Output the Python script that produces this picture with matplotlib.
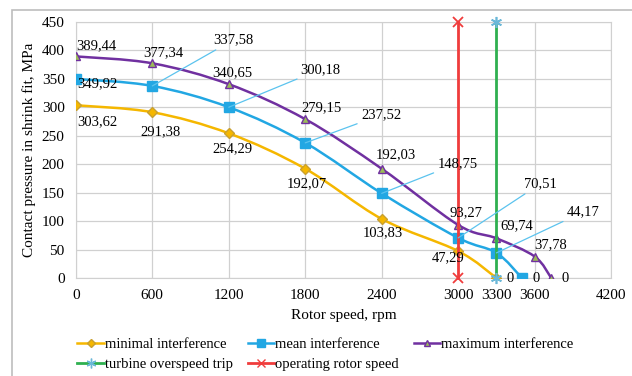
import matplotlib.pyplot as plt
from matplotlib.path import Path
from matplotlib.patches import PathPatch, Rectangle
from matplotlib.lines import Line2D

# rotor speed, rpm / contact pressure, MPa
min_x = [0, 600, 1200, 1800, 2400, 3000, 3300]
min_y = [303.62, 291.38, 254.29, 192.07, 103.83, 47.29, 0]
mean_x = [0, 600, 1200, 1800, 2400, 3000, 3300, 3500]
mean_y = [349.92, 337.58, 300.18, 237.52, 148.75, 70.51, 44.17, 0]
max_x = [0, 600, 1200, 1800, 2400, 3000, 3300, 3600, 3730]
max_y = [389.44, 377.34, 340.65, 279.15, 192.03, 93.27, 69.74, 37.78, 0]

operating_speed = 3000
overspeed_trip = 3300
y_top = 450

x_ticks = [0, 600, 1200, 1800, 2400, 3000, 3300, 3600, 4200]
y_ticks = [0, 50, 100, 150, 200, 250, 300, 350, 400, 450]

# label offsets in pixels (dx, dy) for each point
min_offs = [(21, -16), (8, -19), (4, -15), (2, -15), (1, -14), (-10, -7), (14, 0)]
mean_offs = [(22, -5), (81, 46), (92, 38), (76, 28), (76, 30), (82, 54), (87, 41), (14, 0)]
max_offs = [(20, 11), (11, 11), (4, 11), (16, 11), (14, 14), (8, 12), (20, 13), (16, 12), (14, 0)]
mean_leader = [False, True, True, True, True, True, True, False]

plt.rcParams['font.family'] = ['Liberation Serif', 'DejaVu Serif']
plt.rcParams['font.size'] = 10.5

fig = plt.figure(figsize=(6.32, 3.76), dpi=100)
ax = fig.add_axes([0.120, 0.2606, 0.847, 0.681])

# chart area frame (partly cut off like the original)
fig.patches.append(Rectangle((12 / 632, -0.1), 1.2, 1 - 10 / 376 + 0.1,
                             transform=fig.transFigure, fill=False,
                             edgecolor='#bdbdbd', lw=1.2))


def smooth_path(xs, ys):
    # Excel-like smoothed line: cubic Bezier through each data point
    pts = list(zip(xs, ys))
    verts = [pts[0]]
    codes = [Path.MOVETO]
    n = len(pts)
    for i in range(n - 1):
        p0 = pts[i - 1] if i > 0 else pts[i]
        p1 = pts[i]
        p2 = pts[i + 1]
        p3 = pts[i + 2] if i + 2 < n else pts[i + 1]
        c1 = (p1[0] + (p2[0] - p0[0]) / 6, p1[1] + (p2[1] - p0[1]) / 6)
        c2 = (p2[0] - (p3[0] - p1[0]) / 6, p2[1] - (p3[1] - p1[1]) / 6)
        verts += [c1, c2, p2]
        codes += [Path.CURVE4] * 3
    return Path(verts, codes)


series = [
    (min_x, min_y, '#F5B700', 'D', '#F5B700', '#C8A030', 5, min_offs, 'minimal interference'),
    (mean_x, mean_y, '#22A7E3', 's', '#22A7E3', '#22A7E3', 7, mean_offs, 'mean interference'),
    (max_x, max_y, '#7030A0', '^', '#9BBB59', '#7030A0', 6, max_offs, 'maximum interference'),
]

handles = []
for xs, ys, col, mk, fc, ec, ms, offs, name in series:
    ax.add_patch(PathPatch(smooth_path(xs, ys), fill=False, edgecolor=col, lw=1.8, zorder=3))
    ax.plot(xs, ys, ls='none', marker=mk, ms=ms, mfc=fc, mec=ec, zorder=4)
    handles.append(Line2D([], [], color=col, lw=1.8, marker=mk, ms=ms - 1, mfc=fc, mec=ec))

# data labels
for x, y, (dx, dy) in zip(min_x, min_y, min_offs):
    ax.annotate(f'{y:g}'.replace('.', ',') if y else '0', (x, y), xytext=(dx, dy),
                textcoords='offset pixels', ha='center', va='center', zorder=6)
for x, y, (dx, dy) in zip(max_x, max_y, max_offs):
    ax.annotate(f'{y:.2f}'.replace('.', ',') if y else '0', (x, y), xytext=(dx, dy),
                textcoords='offset pixels', ha='center', va='center', zorder=6)
for x, y, (dx, dy), lead in zip(mean_x, mean_y, mean_offs, mean_leader):
    arrow = dict(arrowstyle='-', color='#5BC3EE', lw=0.9, shrinkA=1, shrinkB=0) if lead else None
    ax.annotate(f'{y:.2f}'.replace('.', ',') if y else '0', (x, y), xytext=(dx, dy),
                textcoords='offset pixels', ha='center', va='center', zorder=6,
                arrowprops=arrow)

# vertical reference lines
ax.plot([overspeed_trip, overspeed_trip], [0, y_top], color='#2FB050', lw=2,
        marker=(6, 2, 0), ms=8, mec='#6BB8D8', mew=1.2, zorder=5, clip_on=False)
ax.plot([operating_speed, operating_speed], [0, y_top], color='#F03C3C', lw=2,
        marker='x', ms=7, mec='#F03C3C', mew=1.3, zorder=5, clip_on=False)
handles.append(Line2D([], [], color='#2FB050', lw=2, marker=(6, 2, 0), ms=7, mec='#6BB8D8'))
handles.append(Line2D([], [], color='#F03C3C', lw=2, marker='x', ms=6, mec='#F03C3C'))

ax.set_xlim(0, 4200)
ax.set_ylim(0, 450)
ax.set_xticks(x_ticks)
ax.set_yticks(y_ticks)
ax.grid(True, color='#d0d0d0', lw=0.9)
ax.set_axisbelow(True)
for s in ax.spines.values():
    s.set_color('#d0d0d0')
ax.tick_params(length=0, pad=8, labelsize=11)
ax.set_xlabel('Rotor speed, rpm', fontsize=11, labelpad=5)
ax.set_ylabel('Contact pressure in shrink fit, MPa', fontsize=11, labelpad=4)

# row-major legend order for 3 columns
names = ['minimal interference', 'mean interference', 'maximum interference',
         'turbine overspeed trip', 'operating rotor speed']
order = [0, 3, 1, 4, 2]
fig.legend([handles[i] for i in order], [names[i] for i in order], ncol=3,
           loc='lower center', bbox_to_anchor=(0.515, -0.022), frameon=False,
           fontsize=10.5, handlelength=1.8, handletextpad=0.1, columnspacing=1.0,
           labelspacing=0.45)

fig.savefig('out.png', dpi=100)
